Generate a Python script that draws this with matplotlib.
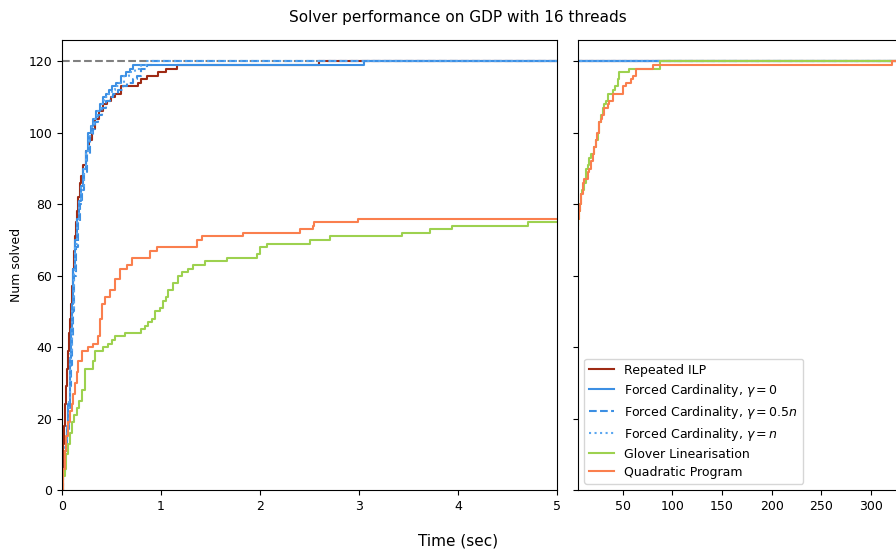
import numpy as np
import matplotlib
matplotlib.use("Agg")
import matplotlib.pyplot as plt

# cumulative number of instances solved vs time (sec)
N_TOTAL = 120
T_END = 330

ilp_t = [0, 0.005, 0.013, 0.02, 0.03, 0.04, 0.05, 0.06, 0.07, 0.08, 0.09, 0.10, 0.11, 0.12, 0.13,
         0.14, 0.15, 0.165, 0.18, 0.19, 0.21, 0.24, 0.27,
         0.30, 0.33, 0.37, 0.41, 0.45, 0.49, 0.54, 0.60, 0.77, 0.80, 0.86, 0.97, 1.05, 1.16, 2.60]
ilp_c = [0, 6, 13, 18, 24, 29, 34, 39, 44, 48, 52, 57, 62, 67, 71,
         75, 78, 82, 86, 88, 91, 95, 98,
         101, 104, 106, 108, 109, 110, 111, 113, 114, 115, 116, 117, 118, 119, 120]

fc0_t = [0, 0.01, 0.03, 0.05, 0.065, 0.08, 0.09, 0.10, 0.115, 0.13, 0.15, 0.17, 0.19, 0.215, 0.24,
         0.265, 0.29, 0.31, 0.34, 0.38, 0.41, 0.44, 0.47, 0.50, 0.55, 0.60, 0.65, 0.69, 0.72, 3.05]
fc0_c = [0, 5, 11, 18, 24, 37, 45, 52, 62, 70, 76, 81, 85, 90, 95,
         100, 102, 104, 106, 108, 110, 111, 112, 113, 114, 116, 117, 118, 119, 120]

fc05_t = [0, 0.015, 0.035, 0.055, 0.07, 0.08, 0.09, 0.10, 0.11, 0.125, 0.14, 0.16, 0.18, 0.20, 0.225,
          0.25, 0.28, 0.31, 0.33, 0.36, 0.40, 0.44, 0.48, 0.52, 0.57, 0.62, 0.66, 0.72, 0.76, 0.80,
          0.86, 0.91]
fc05_c = [0, 5, 10, 17, 23, 29, 35, 43, 50, 60, 68, 75, 80, 84, 89,
          94, 99, 101, 103, 105, 107, 109, 110, 111, 112, 113, 114, 115, 116, 118,
          119, 120]

fcn_t = [0, 0.012, 0.03, 0.05, 0.068, 0.085, 0.10, 0.12, 0.135, 0.155, 0.175, 0.195, 0.22, 0.245, 0.27,
         0.30, 0.32, 0.35, 0.39, 0.42, 0.46, 0.50, 0.54, 0.58, 0.63, 0.68, 0.74, 0.80, 0.86]
fcn_c = [0, 6, 12, 18, 25, 38, 51, 61, 69, 76, 81, 85, 90, 95, 99,
         102, 104, 106, 108, 110, 111, 112, 113, 114, 116, 117, 118, 119, 120]

glover_t = [0, 0.013, 0.03, 0.045, 0.064, 0.08, 0.098, 0.12, 0.148, 0.17, 0.199, 0.232, 0.316, 0.33,
            0.414, 0.46, 0.502, 0.535, 0.636, 0.80, 0.838, 0.87, 0.906, 0.939, 0.99, 1.02, 1.05,
            1.074, 1.12, 1.175, 1.209, 1.276, 1.326, 1.444, 1.664, 1.97, 2.0, 2.07, 2.505, 2.707,
            3.431, 3.717, 3.936, 4.71, 5.5, 6.3, 7.2, 8.0, 9.5, 11.3, 13.0, 14.8, 16.4, 18.5,
            21.4, 23.0, 24.7, 26.5, 28.2, 30.0, 31.5, 33.0, 34.8, 39.9, 42.0, 44.9, 46.7, 56.8, 87.8]
glover_c = [0, 4, 6, 10, 13, 16, 19, 21, 23, 25, 28, 34, 36, 39,
            40, 41, 42, 43, 44, 45, 46, 47, 48, 50, 51, 53, 54,
            56, 58, 60, 61, 62, 63, 64, 65, 66, 68, 69, 70, 71,
            72, 73, 74, 75, 76, 78, 80, 83, 84, 86, 90, 91, 93, 94,
            96, 98, 100, 103, 105, 107, 108, 109, 111, 112, 113, 115, 117, 118, 120]

qp_t = [0, 0.013, 0.03, 0.045, 0.064, 0.08, 0.098, 0.115, 0.131, 0.15, 0.165, 0.199, 0.265, 0.316,
        0.367, 0.384, 0.40, 0.434, 0.485, 0.535, 0.586, 0.653, 0.704, 0.89, 0.956, 1.36, 1.41,
        1.83, 2.40, 2.535, 2.55, 2.99, 5.8, 6.7, 8.0, 9.6, 11.3, 14.6, 16.4, 18.0, 19.6, 21.4,
        23.0, 24.6, 26.3, 28.0, 29.6, 31.3, 34.7, 36.4, 39.9, 50.0, 53.3, 58.3, 60.0, 63.4, 80.3,
        321.0]
qp_c = [0, 6, 11, 15, 19, 22, 24, 27, 30, 33, 36, 39, 40, 41,
        43, 48, 52, 54, 56, 59, 62, 63, 65, 67, 68, 70, 71,
        72, 73, 74, 75, 76, 78, 80, 83, 86, 87, 89, 90, 92, 94, 96,
        98, 100, 103, 104, 105, 107, 108, 109, 111, 113, 114, 115, 116, 118, 119,
        120]

series = [
    ("Repeated ILP", ilp_t, ilp_c, "#9e2a14", "-"),
    (r"Forced Cardinality, $\gamma = 0$", fc0_t, fc0_c, "#3c8fe3", "-"),
    (r"Forced Cardinality, $\gamma = 0.5n$", fc05_t, fc05_c, "#3c8fe3", "--"),
    (r"Forced Cardinality, $\gamma = n$", fcn_t, fcn_c, "#5aa6f0", ":"),
    ("Glover Linearisation", glover_t, glover_c, "#9dd14f", "-"),
    ("Quadratic Program", qp_t, qp_c, "#fa7f4e", "-"),
]

plt.rcParams["font.size"] = 9

fig = plt.figure(figsize=(8.96, 5.51), dpi=100)
ax1 = fig.add_axes([62 / 896, 61 / 551, 495 / 896, 450 / 551])
ax2 = fig.add_axes([578 / 896, 61 / 551, 320 / 896, 450 / 551], sharey=ax1)

for ax in (ax1, ax2):
    ax.axhline(N_TOTAL, color="gray", linestyle="--", linewidth=1.5)
    for label, t, c, color, ls in series:
        tt = np.append(t, T_END)
        cc = np.append(c, c[-1])
        ax.plot(tt, cc, drawstyle="steps-post", color=color, linestyle=ls,
                linewidth=1.5, label=label)

ax1.set_xlim(0, 5)
ax1.set_ylim(0, 126)
ax1.set_ylabel("Num solved")
ax2.set_xlim(5, 327)
ax2.set_xticks([50, 100, 150, 200, 250, 300])
plt.setp(ax2.get_yticklabels(), visible=False)

handles, labels = ax1.get_legend_handles_labels()
ax2.legend(handles[-6:], labels[-6:], loc="lower left", labelspacing=0.4)

fig.suptitle("Solver performance on GDP with 16 threads", x=458 / 896, y=0.982, fontsize=11)
fig.supxlabel("Time (sec)", x=458 / 896, y=0.005, fontsize=11)

fig.savefig("out.png", dpi=100)
